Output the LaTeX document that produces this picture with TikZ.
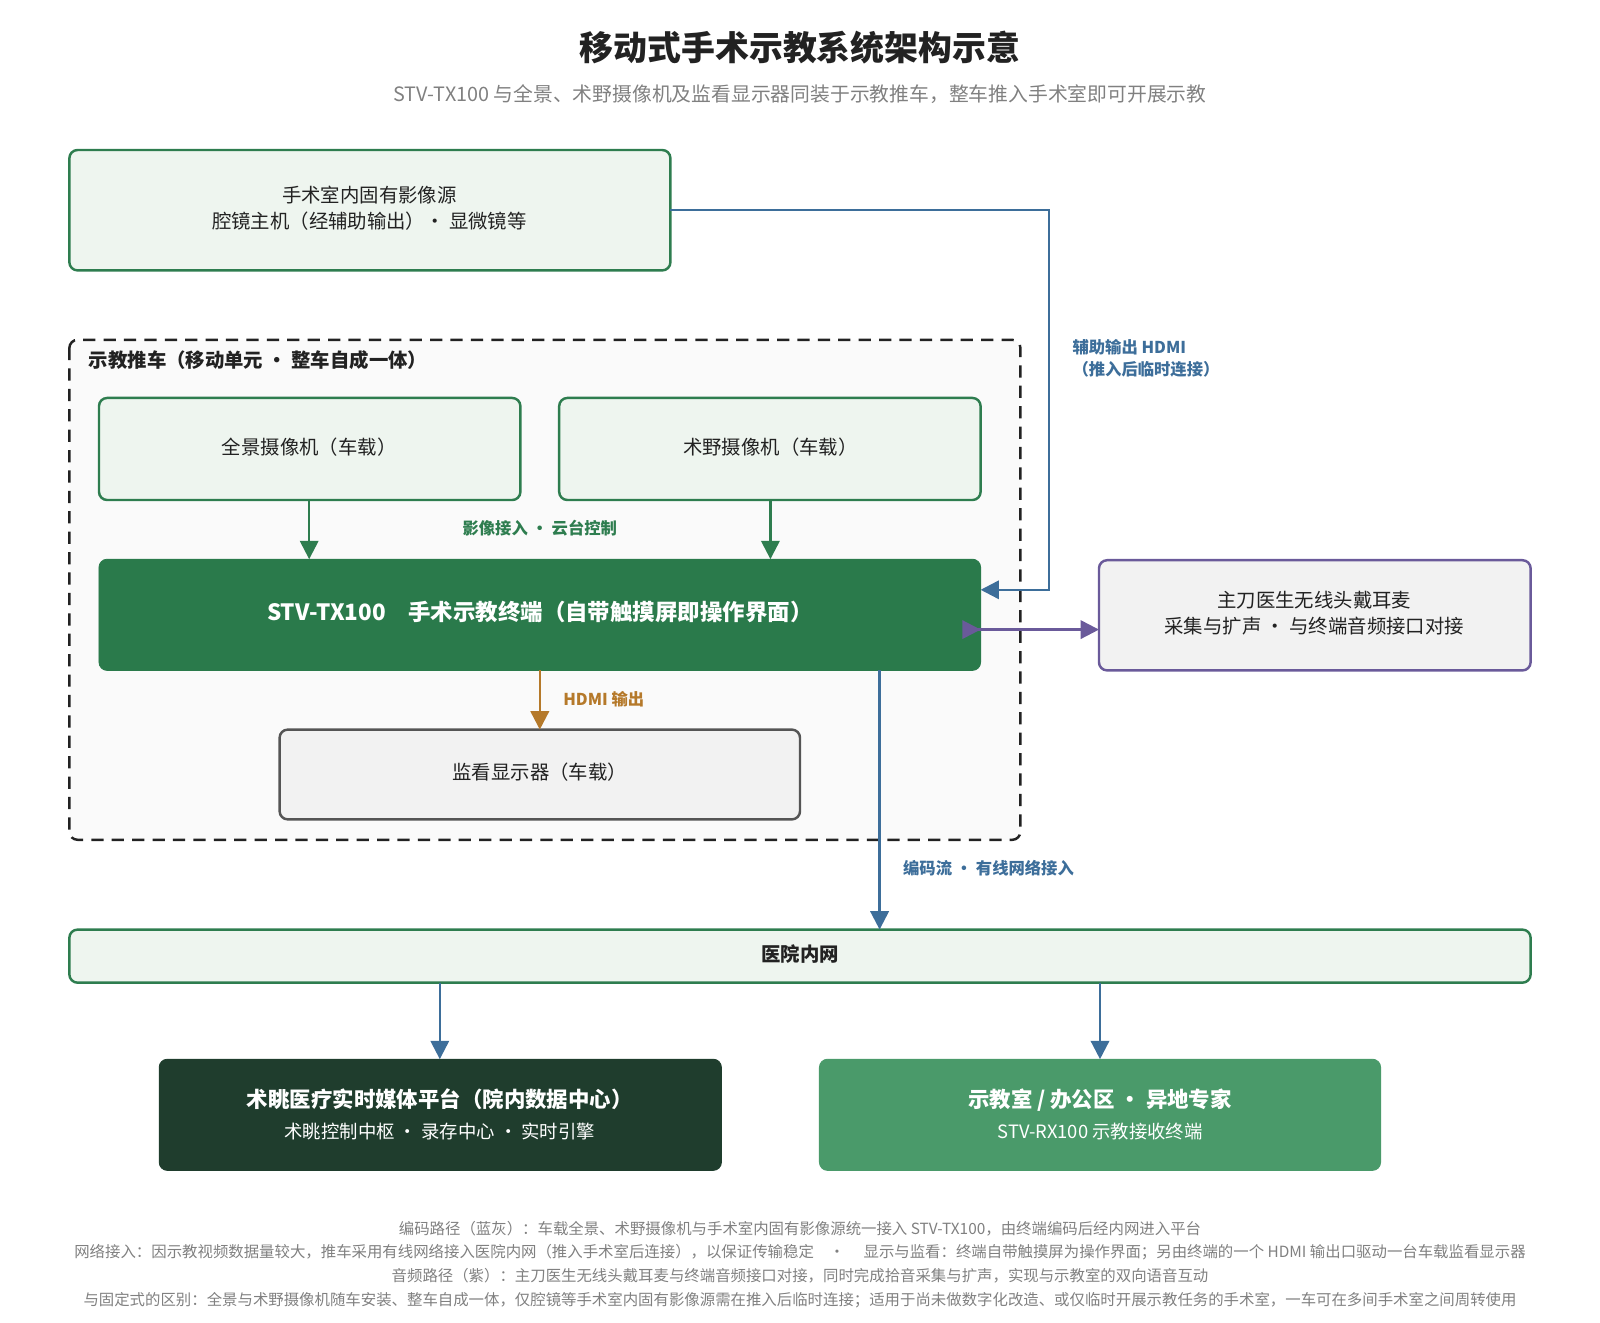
\documentclass[tikz,border=0pt]{standalone}
\usepackage{fontspec}
\setmainfont{Noto Sans CJK SC}
\usetikzlibrary{arrows.meta}
\definecolor{gb}{HTML}{2E7D4F}\definecolor{gf}{HTML}{EEF5EF}
\definecolor{term}{HTML}{2A7A4B}\definecolor{dk}{HTML}{1F3D2D}
\definecolor{mid}{HTML}{4A9A6A}\definecolor{bl}{HTML}{3D6E9A}
\definecolor{pu}{HTML}{6A5A9A}\definecolor{or}{HTML}{B5792A}
\definecolor{gy}{HTML}{555555}\definecolor{tx}{HTML}{222222}
\begin{document}
\begin{tikzpicture}[x=0.5pt,y=-0.5pt,
 box/.style={draw=gb,fill=gf,line width=1.2pt,rounded corners=4pt},
 gbox/.style={draw=gy,fill=black!5,line width=1.2pt,rounded corners=4pt},
 t/.style={font=\fontsize{9.5}{13}\selectfont,text=tx,align=center},
 lab/.style={font=\fontsize{8}{11}\selectfont\bfseries,align=left,anchor=west},
 ar/.style={line width=1.2pt,-{Triangle[length=9pt,width=9pt]}},
 foot/.style={font=\fontsize{7.55}{9}\selectfont,text=gray}]
\useasboundingbox (0,0) rectangle (1568,1296);
\node[font=\fontsize{16.6}{20}\selectfont\bfseries,text=tx] (title) at (784,47) {移动式手术示教系统架构示意};
\node[font=\fontsize{9.7}{12}\selectfont,text=gray] (sub) at (784,92) {STV-TX100 与全景、术野摄像机及监看显示器同装于示教推车，整车推入手术室即可开展示教};
\draw[box] (68,147) rectangle (657,265);
\node[t] (src) at (362,204) {手术室内固有影像源\\腔镜主机（经辅助输出）· 显微镜等};
\coordinate (srcR) at (657,206);
\draw[dashed,line width=1.2pt,draw=tx,fill=black!2,rounded corners=4pt,dash pattern=on 6pt off 4pt] (68,333) rectangle (1000,823);
\node[lab,text=tx,font=\fontsize{9.5}{12}\selectfont\bfseries] (cart) at (80,353) {示教推车（移动单元 · 整车自成一体）};
\draw[box] (97,390) rectangle (510,490); \node[t] (pano) at (303,438) {全景摄像机（车载）};
\draw[box] (548,390) rectangle (961,490); \node[t] (field) at (755,438) {术野摄像机（车载）};
\draw[fill=term,draw=term,rounded corners=4pt] (97,548) rectangle (961,657);
\node[font=\fontsize{11}{14}\selectfont\bfseries,text=white] (term) at (529,600) {STV-TX100\quad 手术示教终端（自带触摸屏即操作界面）};
\draw[gbox] (274,715) rectangle (784,803); \node[t] (mon) at (529,757) {监看显示器（车载）};
\draw[gbox,draw=pu] (1077,549) rectangle (1500,657);
\node[t] (mic) at (1288,601) {主刀医生无线头戴耳麦\\采集与扩声 · 与终端音频接口对接};
\draw[box] (68,911) rectangle (1500,963);
\node[font=\fontsize{9.5}{12}\selectfont\bfseries,text=tx] (net) at (784,935) {医院内网};
\draw[fill=dk,draw=dk,rounded corners=4pt] (156,1038) rectangle (707,1147);
\node[text=white,align=center,font=\fontsize{10.5}{15}\selectfont] (plat) at (431,1092) {\textbf{术眺医疗实时媒体平台（院内数据中心）}\\{\fontsize{9}{12}\selectfont 术眺控制中枢 · 录存中心 · 实时引擎}};
\draw[fill=mid,draw=mid,rounded corners=4pt] (803,1038) rectangle (1353,1147);
\node[text=white,align=center,font=\fontsize{10.5}{15}\selectfont] (cls) at (1078,1092) {\textbf{示教室 / 办公区 · 异地专家}\\{\fontsize{9}{12}\selectfont STV-RX100 示教接收终端}};
% arrows
\draw[ar,gb] (303,490) -- (303,548);
\draw[ar,gb] (755,490) -- (755,548);
\node[lab,text=gb,anchor=center] (l1) at (529,518) {影像接入 · 云台控制};
\draw[ar,or] (529,657) -- (529,715);
\node[lab,text=or] (l2) at (545,685) {HDMI 输出};
\draw[ar,bl] (srcR) -- (1028,206) -- (1028,578) -- (961,578);
\node[lab,text=bl] (l3) at (1044,351) {辅助输出 HDMI\\（推入后临时连接）};
\draw[line width=1.2pt,pu,{Triangle[reversed,length=9pt,width=9pt]}-{Triangle[length=9pt,width=9pt]}] (943,617) -- (1077,617);
\draw[ar,bl] (862,657) -- (862,911);
\node[lab,text=bl] (l4) at (878,851) {编码流 · 有线网络接入};
\draw[ar,bl] (431,963) -- (431,1038);
\draw[ar,bl] (1078,963) -- (1078,1038);
\node[foot] (f1) at (784,1204) {编码路径（蓝灰）：车载全景、术野摄像机与手术室内固有影像源统一接入 STV-TX100，由终端编码后经内网进入平台};
\node[foot] (f2) at (784,1227) {网络接入：因示教视频数据量较大，推车采用有线网络接入医院内网（推入手术室后连接），以保证传输稳定\quad · \quad 显示与监看：终端自带触摸屏为操作界面；另由终端的一个 HDMI 输出口驱动一台车载监看显示器};
\node[foot] (f3) at (784,1250) {音频路径（紫）：主刀医生无线头戴耳麦与终端音频接口对接，同时完成拾音采集与扩声，实现与示教室的双向语音互动};
\node[foot] (f4) at (784,1274) {与固定式的区别：全景与术野摄像机随车安装、整车自成一体，仅腔镜等手术室内固有影像源需在推入后临时连接；适用于尚未做数字化改造、或仅临时开展示教任务的手术室，一车可在多间手术室之间周转使用};
\end{tikzpicture}
\end{document}
